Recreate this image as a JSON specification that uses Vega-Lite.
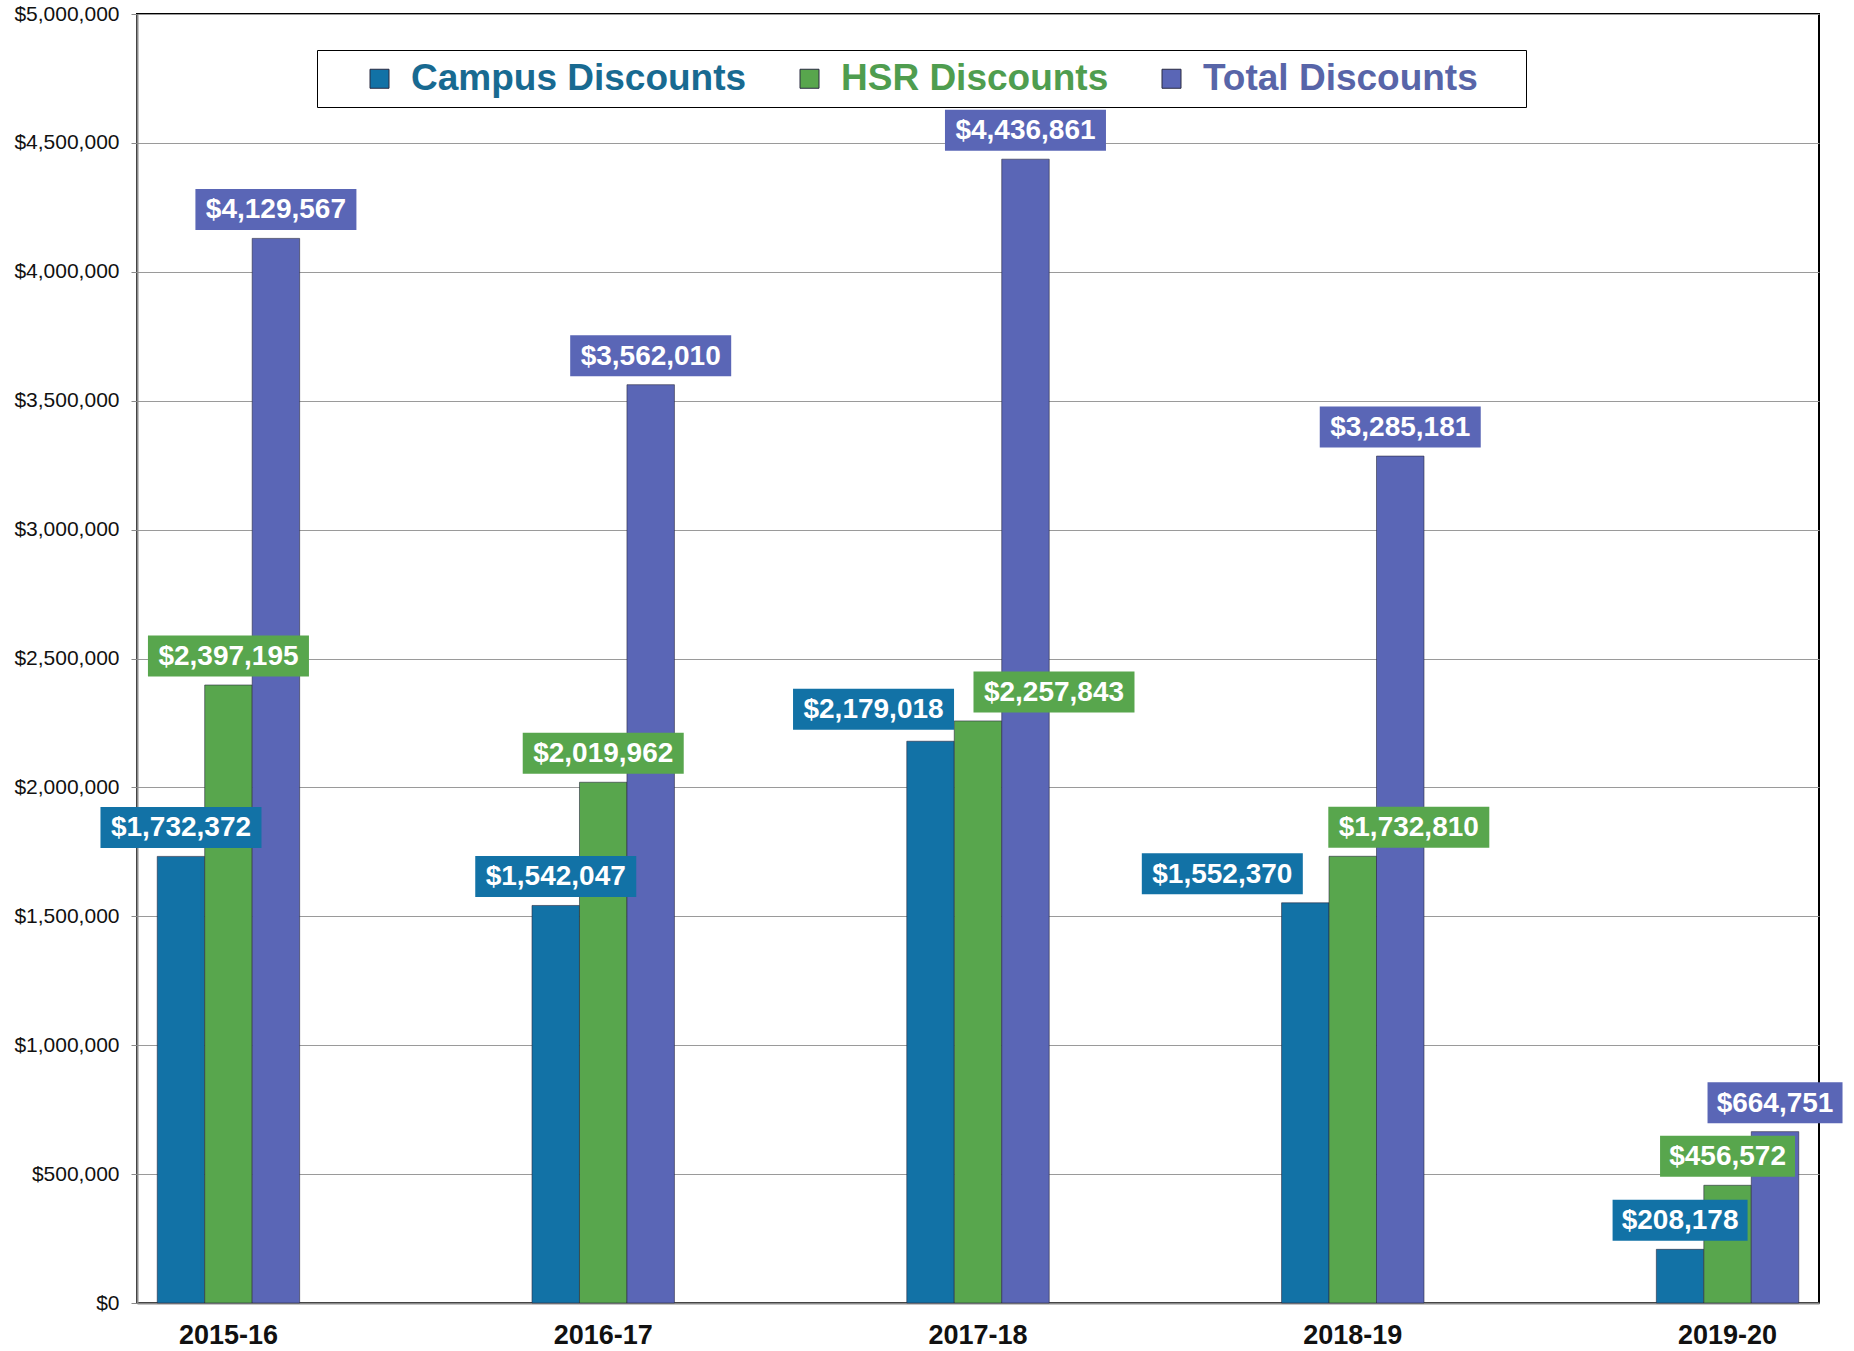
{
  "$schema": "https://vega.github.io/schema/vega-lite/v6.json",
  "width": 1682,
  "height": 1289,
  "autosize": {"type": "none"},
  "padding": {"left": 137, "top": 14, "right": 35, "bottom": 48},
  "background": "white",
  "config": {
    "view": {"stroke": "#000000", "strokeWidth": 2},
    "font": "Liberation Sans"
  },
  "data": {
    "values": [
      {"year": "2015-16", "series": "Campus Discounts", "value": 1732372},
      {"year": "2015-16", "series": "HSR Discounts", "value": 2397195},
      {"year": "2015-16", "series": "Total Discounts", "value": 4129567},
      {"year": "2016-17", "series": "Campus Discounts", "value": 1542047},
      {"year": "2016-17", "series": "HSR Discounts", "value": 2019962},
      {"year": "2016-17", "series": "Total Discounts", "value": 3562010},
      {"year": "2017-18", "series": "Campus Discounts", "value": 2179018},
      {"year": "2017-18", "series": "HSR Discounts", "value": 2257843},
      {"year": "2017-18", "series": "Total Discounts", "value": 4436861},
      {"year": "2018-19", "series": "Campus Discounts", "value": 1552370},
      {"year": "2018-19", "series": "HSR Discounts", "value": 1732810},
      {"year": "2018-19", "series": "Total Discounts", "value": 3285181},
      {"year": "2019-20", "series": "Campus Discounts", "value": 208178},
      {"year": "2019-20", "series": "HSR Discounts", "value": 456572},
      {"year": "2019-20", "series": "Total Discounts", "value": 664751}
    ]
  },
  "encoding": {
    "x": {
      "field": "year", "type": "nominal", "sort": null,
      "scale": {"paddingInner": 0.62, "paddingOuter": 0.054},
      "axis": {
        "title": null, "labelAngle": 0, "ticks": false,
        "labelFont": "Liberation Sans", "labelFontSize": 27, "labelFontWeight": "bold",
        "labelColor": "#111111", "labelPadding": 19,
        "domainColor": "#8a8a8a", "domainWidth": 2
      }
    },
    "xOffset": {"field": "series", "type": "nominal", "sort": ["Campus Discounts", "HSR Discounts", "Total Discounts"]},
    "y": {
      "field": "value", "type": "quantitative",
      "scale": {"domain": [0, 5000000], "nice": false},
      "axis": {
        "title": null, "tickCount": 10, "format": "$,.0f",
        "labelFont": "Liberation Sans", "labelFontSize": 21, "labelColor": "#111111",
        "labelPadding": 12, "tickSize": 6, "tickColor": "#8a8a8a",
        "domainColor": "#8a8a8a", "domainWidth": 2,
        "gridColor": "#9a9a9a", "gridWidth": 1.2
      }
    },
    "color": {
      "field": "series", "type": "nominal",
      "sort": ["Campus Discounts", "HSR Discounts", "Total Discounts"],
      "scale": {"domain": ["Campus Discounts", "HSR Discounts", "Total Discounts"], "range": ["#1272a6", "#58a64d", "#5a66b6"]},
      "legend": {
        "title": null, "orient": "none", "legendX": 180, "legendY": 36,
        "direction": "horizontal", "columns": 3,
        "symbolType": "square", "symbolSize": 361, "symbolStrokeWidth": 1,
        "labelFont": "Liberation Sans", "labelFontSize": 37, "labelFontWeight": "bold",
        "labelOffset": 13, "columnPadding": 10, "labelLimit": 600,
        "strokeColor": "#000000", "fillColor": "#ffffff", "padding": 10,
        "symbolOffset": 34,
        "labelExpr": "datum.label === 'Total Discounts' ? datum.label + '\u00a0\u2800' : datum.label",
        "labelColor": {"expr": "datum.value === 'Campus Discounts' ? '#186a91' : datum.value === 'HSR Discounts' ? '#4f9d4f' : '#5865a8'"}
      }
    }
  },
  "layer": [
    {"mark": {"type": "bar", "stroke": "#2a2a40", "strokeWidth": 0.6}},
    {
      "transform": [{"filter": "datum.value >= 1000000 && !((datum.year === '2017-18' || datum.year === '2018-19') && datum.series !== 'Total Discounts')"}],
      "layer": [
        {"mark": {"type": "point", "shape": "M-1,-0.2547H1V0.2547H-1Z", "size": 25921, "filled": true, "opacity": 1, "yOffset": -29}},
        {"mark": {"type": "text", "fontSize": 28, "fontWeight": "bold", "baseline": "middle", "yOffset": -28}, "encoding": {"text": {"field": "value", "type": "quantitative", "format": "$,.0f"}, "color": {"value": "white"}}}
      ]
    },
    {
      "transform": [{"filter": "datum.value < 1000000"}],
      "layer": [
        {"mark": {"type": "point", "shape": "M-1,-0.3037H1V0.3037H-1Z", "size": 18225, "filled": true, "opacity": 1, "yOffset": -29}},
        {"mark": {"type": "text", "fontSize": 28, "fontWeight": "bold", "baseline": "middle", "yOffset": -28}, "encoding": {"text": {"field": "value", "type": "quantitative", "format": "$,.0f"}, "color": {"value": "white"}}}
      ]
    },
    {
      "transform": [{"filter": "datum.year === '2017-18' && datum.series === 'Campus Discounts'"}],
      "layer": [
        {"mark": {"type": "point", "shape": "M-1.708,-0.2547H0.292V0.2547H-1.708Z", "size": 25921, "filled": true, "opacity": 1, "yOffset": -32}},
        {"mark": {"type": "text", "fontSize": 28, "fontWeight": "bold", "baseline": "middle", "yOffset": -31, "dx": -57}, "encoding": {"text": {"field": "value", "type": "quantitative", "format": "$,.0f"}, "color": {"value": "white"}}}
      ]
    },
    {
      "transform": [{"filter": "datum.year === '2017-18' && datum.series === 'HSR Discounts'"}],
      "layer": [
        {"mark": {"type": "point", "shape": "M-0.056,-0.2547H1.944V0.2547H-0.056Z", "size": 25921, "filled": true, "opacity": 1, "yOffset": -29}},
        {"mark": {"type": "text", "fontSize": 28, "fontWeight": "bold", "baseline": "middle", "yOffset": -28, "dx": 76}, "encoding": {"text": {"field": "value", "type": "quantitative", "format": "$,.0f"}, "color": {"value": "white"}}}
      ]
    },
    {
      "transform": [{"filter": "datum.year === '2018-19' && datum.series === 'Campus Discounts'"}],
      "layer": [
        {"mark": {"type": "point", "shape": "M-2.031,-0.2547H-0.031V0.2547H-2.031Z", "size": 25921, "filled": true, "opacity": 1, "yOffset": -29}},
        {"mark": {"type": "text", "fontSize": 28, "fontWeight": "bold", "baseline": "middle", "yOffset": -28, "dx": -83}, "encoding": {"text": {"field": "value", "type": "quantitative", "format": "$,.0f"}, "color": {"value": "white"}}}
      ]
    },
    {
      "transform": [{"filter": "datum.year === '2018-19' && datum.series === 'HSR Discounts'"}],
      "layer": [
        {"mark": {"type": "point", "shape": "M-0.304,-0.2547H1.696V0.2547H-0.304Z", "size": 25921, "filled": true, "opacity": 1, "yOffset": -29}},
        {"mark": {"type": "text", "fontSize": 28, "fontWeight": "bold", "baseline": "middle", "yOffset": -28, "dx": 56}, "encoding": {"text": {"field": "value", "type": "quantitative", "format": "$,.0f"}, "color": {"value": "white"}}}
      ]
    }
  ]
}
